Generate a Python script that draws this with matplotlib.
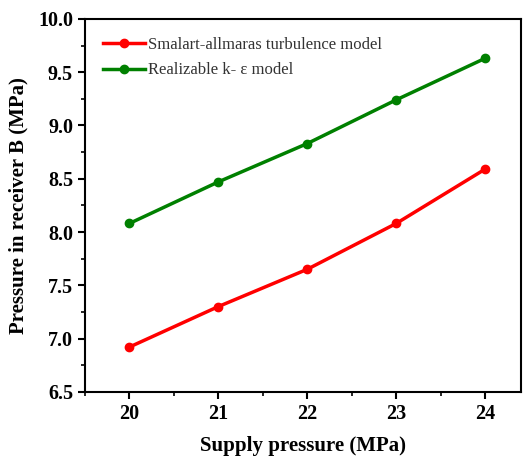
import matplotlib
matplotlib.use("Agg")
import matplotlib.pyplot as plt
from matplotlib.ticker import MultipleLocator

supply = [20, 21, 22, 23, 24]
sa_model = [6.92, 7.30, 7.65, 8.08, 8.59]
ke_model = [8.08, 8.47, 8.83, 9.24, 9.63]

plt.rcParams['font.family'] = 'Liberation Serif'

fig = plt.figure(figsize=(5.27, 4.61), dpi=100)
ax = fig.add_axes([0.161, 0.150, 0.827, 0.809])

ax.plot(supply, sa_model, color='#ff0000', lw=2.5, marker='o', ms=6,
        label='Smalart-allmaras turbulence model')
ax.plot(supply, ke_model, color='#008000', lw=2.5, marker='o', ms=6,
        label='Realizable k- \u03b5 model')

ax.set_xlim(19.5, 24.4)
ax.set_ylim(6.5, 10.0)
ax.set_xticks(supply)
ax.xaxis.set_minor_locator(MultipleLocator(0.5))
ax.yaxis.set_major_locator(MultipleLocator(0.5))
ax.yaxis.set_minor_locator(MultipleLocator(0.25))
ax.yaxis.set_major_formatter(matplotlib.ticker.FormatStrFormatter('%.1f'))

ax.tick_params(which='major', direction='out', length=5, width=1.5, labelsize=14.5)
ax.tick_params(which='minor', direction='out', length=3, width=1.2)
for lab in ax.get_xticklabels() + ax.get_yticklabels():
    lab.set_fontweight('bold')
for sp in ax.spines.values():
    sp.set_linewidth(1.5)

ax.set_xlabel('Supply pressure (MPa)', fontsize=15, fontweight='bold', labelpad=9)
ax.set_ylabel('Pressure in receiver B (MPa)', fontsize=15, fontweight='bold', labelpad=7)

leg = ax.legend(loc='upper left', frameon=False, fontsize=12, handlelength=2.5,
                handletextpad=0.2, labelspacing=0.55, borderaxespad=0.7)
for t in leg.get_texts():
    t.set_color('#333333')

fig.savefig('out.png', dpi=100)
